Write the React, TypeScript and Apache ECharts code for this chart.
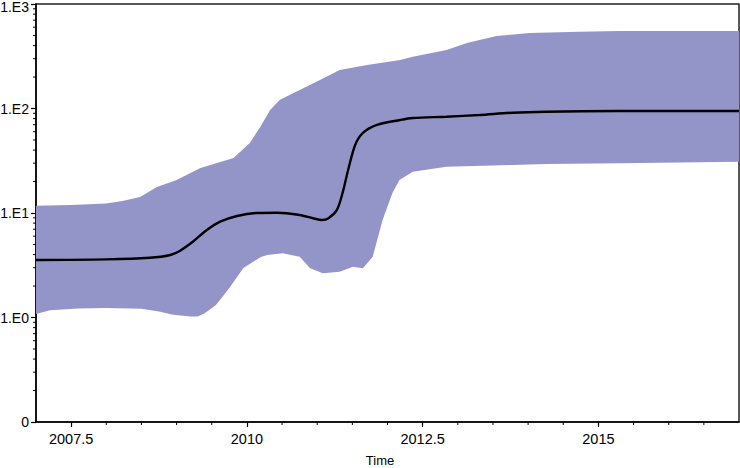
import React, { useEffect, useRef } from "react";
import * as echarts from "echarts";

// Time (years) and values (log-scaled y axis)
const UPPER_YEARS = [2007.0, 2007.5, 2008.0, 2008.23, 2008.48, 2008.72, 2009.0, 2009.34, 2009.81, 2010.04, 2010.19, 2010.33, 2010.47, 2010.75, 2011.04, 2011.32, 2011.71, 2012.18, 2012.36, 2012.84, 2013.13, 2013.55, 2014.02, 2014.73, 2015.3, 2017.0];
const UPPER_VALUES = [11.7, 11.9, 12.3, 13.0, 14.2, 17.7, 20.7, 27.0, 33.6, 46.8, 66.5, 96.8, 121, 150, 187, 234, 261, 291, 313, 363, 424, 494, 528, 543, 552, 552];

const MEDIAN_YEARS = [2007.0, 2008.0, 2008.62, 2008.91, 2009.05, 2009.23, 2009.43, 2009.62, 2009.86, 2010.14, 2010.43, 2010.75, 2010.94, 2011.07, 2011.16, 2011.28, 2011.36, 2011.44, 2011.54, 2011.65, 2011.85, 2012.18, 2012.36, 2012.84, 2013.31, 2013.78, 2014.26, 2015.3, 2017.0];
const MEDIAN_VALUES = [3.55, 3.6, 3.73, 3.96, 4.36, 5.31, 6.87, 8.26, 9.36, 10.0, 10.07, 9.57, 8.9, 8.57, 8.9, 10.7, 15.5, 25.8, 44.7, 58.3, 69.6, 77.6, 81.1, 83.5, 86.7, 91.2, 93.2, 94.6, 94.6];

const LOWER_YEARS = [2007.0, 2007.2, 2007.6, 2008.0, 2008.5, 2008.75, 2008.95, 2009.2, 2009.3, 2009.4, 2009.56, 2009.75, 2009.95, 2010.2, 2010.29, 2010.51, 2010.75, 2010.9, 2011.08, 2011.32, 2011.51, 2011.65, 2011.79, 2011.93, 2012.07, 2012.17, 2012.36, 2012.84, 2013.78, 2014.26, 2015.3, 2017.0];
const LOWER_VALUES = [1.08, 1.17, 1.22, 1.23, 1.21, 1.14, 1.06, 1.02, 1.02, 1.10, 1.32, 1.92, 2.98, 3.79, 3.96, 4.11, 3.82, 2.96, 2.65, 2.74, 3.06, 2.96, 3.82, 8.57, 15.5, 20.7, 24.8, 27.7, 28.8, 29.4, 29.9, 31.0];

const X_LABELS = [2007.5, 2010, 2012.5, 2015];
const X_MINOR = [2008, 2008.5, 2009, 2009.5, 2010.5, 2011, 2011.5, 2012, 2013, 2013.5, 2014, 2014.5, 2015.5, 2016, 2016.5];
const Y_DECADES = [-1, 0, 1, 2, 3]; // log10 of 0.1 ... 1000
const Y_MINOR_MULTIPLES = [2, 3, 4, 5, 6, 7, 8, 9];

const X_MIN = 2007;
const X_MAX = 2017;
const BAND = "#9395c8";
const FONT = "Liberation Sans, Arial, sans-serif";

export default function App() {
  const ref = useRef<HTMLDivElement>(null);

  useEffect(() => {
    if (!ref.current) return;
    const chart = echarts.init(ref.current, null, { renderer: "svg" });

    const upper = UPPER_YEARS.map((t, i) => [t, Math.log10(UPPER_VALUES[i])]);
    const lower = LOWER_YEARS.map((t, i) => [t, Math.log10(LOWER_VALUES[i])]);
    const median = MEDIAN_YEARS.map((t, i) => [t, Math.log10(MEDIAN_VALUES[i])]);

    const yMinor: number[] = [];
    for (let d = -1; d < 3; d++) {
      for (const k of Y_MINOR_MULTIPLES) yMinor.push(Math.log10(k * Math.pow(10, d)));
    }

    chart.setOption({
      animation: false,
      grid: {
        left: 36,
        right: 1,
        top: 4,
        bottom: 46,
        outerBoundsMode: "none",
        containLabel: false,
        show: true,
        borderColor: "#222",
        borderWidth: 1.5,
        backgroundColor: "transparent",
      },
      xAxis: {
        type: "value",
        min: X_MIN,
        max: X_MAX,
        name: "Time",
        nameLocation: "middle",
        nameGap: 32,
        nameTextStyle: { color: "#000", fontFamily: FONT, fontSize: 13, padding: [0, 15, 0, 0] },
        axisLine: { show: true, onZero: false, lineStyle: { color: "#000", width: 1.5 } },
        axisTick: { show: true, length: 5, customValues: X_LABELS, lineStyle: { color: "#000", width: 1.2 } },
        axisLabel: {
          customValues: X_LABELS,
          color: "#000",
          fontFamily: FONT,
          fontSize: 14.5,
          margin: 9,
          formatter: (v: number) => String(v),
        },
        splitLine: { show: false },
      },
      yAxis: {
        type: "value",
        min: -1,
        max: 3,
        interval: 1,
        axisLine: { show: true, onZero: false, lineStyle: { color: "#000", width: 1.5 } },
        axisTick: { show: true, length: 5, customValues: Y_DECADES, lineStyle: { color: "#000", width: 1.2 } },
        axisLabel: {
          color: "#000",
          fontFamily: FONT,
          fontSize: 14,
          margin: 7,
          formatter: (v: number) => (v === -1 ? "0" : v === 3 ? "{top|1.E3}" : "1.E" + v),
          rich: {
            top: { color: "#000", fontFamily: FONT, fontSize: 14, padding: [5, 0, 0, 0] },
          },
        },
        splitLine: { show: false },
      },
      series: [
        {
          type: "custom",
          silent: true,
          clip: true,
          z: 1,
          data: [[2012, 1]],
          renderItem: (_params: any, api: any) => {
            const pts: number[][] = [];
            upper.forEach((p) => pts.push(api.coord(p)));
            for (let i = lower.length - 1; i >= 0; i--) pts.push(api.coord(lower[i]));
            return {
              type: "polygon",
              shape: { points: pts },
              style: { fill: BAND, stroke: "none" },
            };
          },
        },
        {
          type: "line",
          data: median,
          smooth: 0.3,
          symbol: "none",
          z: 3,
          lineStyle: { color: "#000", width: 2.4 },
        },
        {
          // minor ticks of both axes, placed through the axes' scales
          type: "custom",
          silent: true,
          clip: false,
          z: 5,
          data: [[2012, 1]],
          renderItem: (_params: any, api: any) => {
            const children: any[] = [];
            X_MINOR.forEach((t) => {
              const p = api.coord([t, -1]);
              children.push({
                type: "line",
                shape: { x1: p[0], y1: p[1], x2: p[0], y2: p[1] + 3 },
                style: { stroke: "#000", lineWidth: 1 },
              });
            });
            yMinor.forEach((v) => {
              const p = api.coord([X_MIN, v]);
              children.push({
                type: "line",
                shape: { x1: p[0] - 3, y1: p[1], x2: p[0], y2: p[1] },
                style: { stroke: "#000", lineWidth: 1 },
              });
            });
            return { type: "group", children };
          },
        },
      ],
    });

    return () => chart.dispose();
  }, []);

  return (
    <div
      ref={ref}
      style={{ position: "fixed", left: 0, top: 0, width: 740, height: 468, background: "#fff" }}
    />
  );
}
